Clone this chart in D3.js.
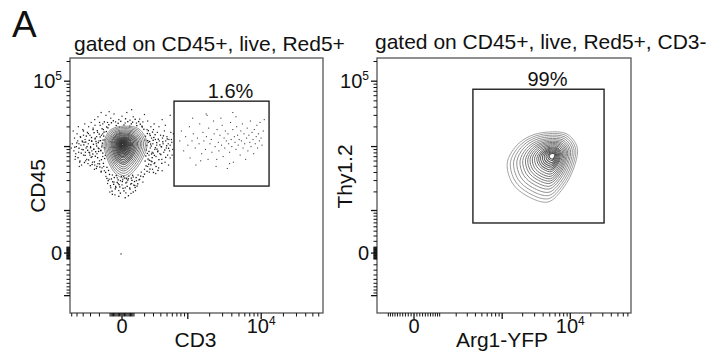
<!DOCTYPE html>
<html><head><meta charset="utf-8">
<script src="https://cdn.jsdelivr.net/npm/d3@7"></script>
<style>
body{margin:0;background:#fff}
svg{display:block}
text{font-family:"Liberation Sans",Arial,Helvetica,sans-serif;fill:#111}
</style>
</head><body>
<svg id="chart" width="713" height="357"></svg>
<script>
// ---------------- DATA (event values in arcsinh-transformed display units) ----------------
const panelLetter = "A";
const panelTitles = ["gated on CD45+, live, Red5+", "gated on CD45+, live, Red5+, CD3-"];
const xAxisTitles = ["CD3", "Arg1-YFP"];
const yAxisTitles = ["CD45", "Thy1.2"];
const gatePercents = ["1.6%", "99%"];

// arcsinh cofactors of the biexponential axes
const xCofactors = [262, 102];
const yCofactors = [470, 470];
// visible axis extents (transformed units)
const xExtents = [[-1.62, 6.26], [-1.25, 7.33]];
const yExtents = [[-2.11, 6.87], [-2.11, 6.87]];

// tick values (raw fluorescence)
const tickDecades = [10, 100, 1000, 10000, 100000];
const majorTicks = [-100000, -10000, -1000, 0, 1000, 10000, 100000];
const xTickLabels = [{value: 0, base: "0", exp: ""}, {value: 10000, base: "10", exp: "4"}];
const yTickLabels = [{value: 0, base: "0", exp: ""}, {value: 100000, base: "10", exp: "5"}];

// gates [xMin, xMax, yMin, yMax] (transformed units)
const gates = [[1.62, 4.58, 2.36, 5.35], [1.99, 6.42, 1.06, 5.77]];

// left panel: sparse events outside the contoured core (CD3, CD45)
const haloCD3 = [
-1.55,-1.50,-1.48,-1.45,-1.42,-1.40,-1.38,-1.35,-1.32,-1.30,-1.28,-1.25,-1.22,-1.20,-1.18,-1.15,-1.12,-1.10,-1.08,-1.05,
-1.03,-1.00,-0.98,-0.95,-0.93,-0.90,-0.88,-0.85,-0.83,-0.80,-0.78,-0.76,-0.74,-0.72,-0.70,-0.68,-0.66,-0.64,-0.62,-0.60,
-0.58,-0.57,-0.55,-1.46,-1.36,-1.26,-1.16,-1.06,-0.96,-0.86,-1.52,-1.33,-1.13,-0.92,-0.75,-0.65,-1.44,-1.24,-1.04,-0.84,
-0.70,-1.58,-1.34,-1.14,-0.94,-0.62,-1.20,-1.00,-0.79,-0.60,
0.80,0.82,0.84,0.86,0.88,0.90,0.92,0.94,0.96,0.98,1.00,1.02,1.04,1.06,1.08,1.10,1.12,1.14,1.16,1.18,
1.20,1.22,1.24,1.26,1.28,1.30,1.32,1.34,1.36,1.38,1.40,1.42,1.44,1.46,1.48,1.50,0.85,0.95,1.05,0.90,
1.15,1.35,1.55,1.58,1.60,1.52,1.50,0.78,1.25,1.45,1.00,1.56,1.54,
-0.50,-0.45,-0.40,-0.35,-0.30,-0.25,-0.20,-0.15,-0.10,-0.05,0.00,0.05,0.10,0.15,0.20,0.25,0.30,0.35,0.40,0.45,
0.50,0.55,0.60,0.65,0.70,-0.38,0.12,-0.22,0.28,0.02,-0.12,0.42,
-0.85,-0.75,-0.60,-0.50,-0.45,-0.35,-0.25,-0.20,-0.10,0.00,0.10,0.15,0.25,0.35,0.45,0.55,0.65,0.70,0.80,-0.40,
0.30,-0.65,1.50,1.25,-0.03];
const haloCD45 = [
3.85,3.60,4.05,3.40,3.75,4.20,3.95,3.55,3.20,4.10,3.80,3.65,4.35,3.45,3.90,4.00,3.70,3.30,4.25,3.85,
3.55,4.15,3.75,3.95,3.40,4.40,3.65,3.10,4.05,3.85,3.50,4.25,3.70,3.95,3.25,4.50,3.60,4.15,3.80,3.40,
4.35,3.05,2.90,3.30,4.45,3.10,4.55,3.15,4.60,2.95,4.30,3.05,3.25,3.20,3.15,2.85,3.50,3.95,4.45,4.50,
4.60,3.70,3.85,3.55,3.60,3.00,4.15,3.45,4.10,4.20,
3.05,3.90,3.45,4.20,3.70,3.25,4.05,3.55,3.85,4.35,3.15,3.65,4.00,3.40,3.80,4.25,3.60,3.00,3.95,3.50,
4.15,3.75,3.30,4.05,3.85,3.55,4.30,3.20,3.95,3.70,4.10,3.45,3.85,4.00,3.60,3.35,2.85,2.95,2.80,4.45,
4.45,4.50,3.90,3.65,4.20,4.25,3.80,4.35,2.90,3.10,4.55,3.45,4.00,
2.70,2.45,2.60,2.30,2.75,2.50,2.35,2.65,2.20,2.55,2.40,2.70,2.30,2.50,2.62,2.25,2.45,2.68,2.38,2.55,
2.75,2.60,2.85,2.50,2.95,2.15,2.12,2.05,2.10,2.58,2.45,2.20,
4.70,4.80,4.55,4.85,4.60,4.75,4.90,4.62,4.70,4.82,4.58,4.95,4.68,4.80,4.58,4.72,4.62,4.88,4.65,4.98,
5.05,4.95,4.85,4.70,-0.03];

// left panel: dense band of events hugging the outer contour [CD3, CD45]
const haloBandEvents = [
[-0.93,3.12],[-0.61,3.87],[-0.77,4.31],[-0.52,3.44],[-0.88,3.66],[-0.69,3.03],[-0.57,4.12],[-0.81,3.93],[-0.64,3.29],[-0.95,4.07],
[-0.73,3.58],[-0.55,3.71],[-0.86,3.21],[-0.62,4.38],[-0.79,3.77],[-0.67,3.96],[-0.91,3.49],[-0.58,3.16],[-0.71,4.19],[-0.84,4.02],
[-0.53,3.99],[-0.76,3.36],[-0.89,3.83],[-0.66,3.62],[-0.98,3.71],[-0.60,3.52],[-0.74,3.89],[-0.83,3.41],[-0.56,4.26],[-0.70,3.14],
[-0.94,3.94],[-0.63,3.74],[-0.87,4.24],[-0.78,3.05],[-0.54,3.33],[-0.68,4.09],[-0.82,3.57],[-0.59,3.98],[-0.96,3.37],[-0.72,3.68],
[-1.07,3.62],[-1.19,3.81],[-1.02,3.97],[-1.27,3.52],[-1.11,4.12],[-1.34,3.69],[-1.04,3.28],[-1.23,3.92],[-1.15,3.44],[-1.41,3.88],
[-1.09,3.75],[-1.29,4.08],[-1.17,3.19],[-1.01,3.53],[-1.37,3.36],[-1.21,3.64],[-1.13,3.91],[-1.47,3.73],[-1.05,4.21],[-1.31,3.24],
[-0.47,3.02],[-0.51,2.84],[-0.44,4.41],[-0.49,4.28],[-0.42,2.91],[-0.99,3.08],[-0.90,4.35],[-0.80,2.98],[-0.65,2.88],[-1.20,4.30],
[0.74,3.42],[0.91,3.77],[0.83,3.13],[0.71,3.98],[0.97,3.52],[0.79,4.21],[1.04,3.71],[0.87,2.96],[0.76,3.63],[0.99,4.07],
[0.81,3.31],[1.08,3.89],[0.93,3.22],[0.73,4.11],[1.01,3.44],[0.86,3.93],[0.78,2.88],[1.11,3.57],[0.95,4.26],[0.84,3.58],
[0.72,3.24],[1.06,3.05],[0.89,3.84],[0.77,3.79],[1.13,4.01],[0.94,3.36],[0.80,3.96],[1.02,3.18],[0.88,4.14],[0.75,3.07],
[1.09,3.66],[0.92,3.49],[0.82,4.31],[1.15,3.29],[0.97,3.97],[0.85,3.27],[1.18,3.81],[1.03,4.17],[0.90,3.11],[0.79,3.51],
[1.21,3.47],[1.27,3.92],[1.33,3.63],[1.24,3.16],[1.39,3.78],[1.29,4.13],[1.36,3.37],[1.45,3.69],[1.23,3.74],[1.41,4.02],
[0.70,2.78],[0.66,2.69],[0.68,4.36],[0.63,4.44],[1.12,2.91],[0.98,2.84],
[-0.33,2.61],[0.12,2.47],[-0.18,2.73],[0.31,2.56],[-0.07,2.33],[0.44,2.66],[-0.26,2.42],[0.21,2.71],[0.03,2.28],[-0.39,2.77],
[0.37,2.39],[-0.12,2.58],[0.16,2.35],[-0.29,2.51],[0.49,2.44],[0.08,2.64],[-0.21,2.26],[0.27,2.43],[-0.02,2.69],[0.41,2.31],
[-0.36,2.37],[0.18,2.57],[-0.09,2.41],[0.33,2.74],[-0.24,2.66],[0.06,2.19],[-0.43,2.55],[0.24,2.29],[-0.15,2.49],[0.53,2.58],
[0.01,2.52],[-0.31,2.18],[0.39,2.52],[-0.05,2.11],[0.14,2.62],[-0.19,2.31],[0.29,2.64],[0.47,2.36],[-0.47,2.63],[0.58,2.71],
[-0.10,2.00],[0.20,2.02],[-0.30,2.07],[0.10,1.95],[0.35,2.15],
[-0.41,4.52],[0.18,4.63],[-0.12,4.57],[0.46,4.49],[-0.27,4.66],[0.06,4.51],[0.33,4.61],[-0.48,4.44],[0.57,4.54],[-0.04,4.64],
[0.24,4.47],[-0.33,4.59],[0.41,4.71],[-0.18,4.49],[0.11,4.73],[0.62,4.47],[-0.55,4.62],[0.29,4.55],[-0.08,4.44],[0.52,4.63]];

// left panel: events inside the CD3+ gate
const gateCD3 = [
1.80,1.85,1.92,1.98,2.05,2.10,2.12,2.18,2.22,2.28,2.30,2.35,2.40,2.42,2.48,2.52,2.55,2.60,2.63,2.68,
2.70,2.74,2.78,2.80,2.85,2.87,2.90,2.93,2.96,3.00,3.02,3.05,3.08,3.10,3.12,3.15,3.18,3.20,3.22,3.25,
3.28,3.30,3.32,3.35,3.38,3.40,3.42,3.45,3.47,3.50,3.52,3.55,3.57,3.60,3.62,3.65,3.68,3.70,3.72,3.75,
3.77,3.80,3.82,3.85,3.88,3.90,3.92,3.95,3.98,4.00,4.02,4.05,4.08,4.10,4.12,4.15,4.18,4.20,4.22,4.25,
4.28,4.30,4.33,4.36,4.40,4.43,2.20,2.65,3.55,2.95,3.35,2.45,3.45,2.62];
const gateCD45 = [
3.95,4.30,3.60,4.10,3.80,4.45,3.35,3.95,4.20,3.70,3.10,4.05,3.85,4.55,3.50,4.25,3.95,3.65,4.10,3.30,
4.40,3.85,4.00,3.55,4.65,4.20,3.75,3.05,4.35,3.90,3.60,4.15,4.75,3.80,4.50,3.40,4.05,3.70,4.30,3.95,
2.98,4.20,3.85,3.55,4.60,4.00,3.75,4.35,3.20,4.10,3.90,3.65,4.45,4.15,3.80,4.00,3.45,4.30,3.95,4.55,
3.70,4.20,3.85,3.30,4.05,4.40,3.60,4.15,3.90,4.65,3.75,4.25,4.00,3.50,4.35,3.85,4.10,4.50,3.70,4.20,
3.95,4.60,4.05,3.80,4.30,4.70,4.75,4.85,4.80,3.30,3.15,3.25,4.95,4.90];

// contour plots: centre, peak offset, outline template (offsets) and contour levels
const contourCentres = [[0.00, 3.70], [4.43, 3.10]];
const contourPeaks = [[0.02, 0.14], [0.26, 0.34]];
const contourShapeX = [
  [0.06, 0.53, 0.78, 0.62, 0.28, 0.06, -0.22, -0.47, -0.56, -0.37],
  [0.07, 0.74, 1.08, 0.98, 0.61, 0.10, -0.61, -1.11, -1.28, -0.98, -0.51]];
const contourShapeY = [
  [0.77, 0.67, 0.18, -0.42, -0.92, -1.06, -0.88, -0.35, 0.18, 0.63],
  [1.16, 1.09, 0.63, -0.07, -0.81, -1.30, -1.09, -0.63, 0.07, 0.67, 1.02]];
const contourLevels = [
  [1.0, 0.93, 0.86, 0.79, 0.73, 0.67, 0.61, 0.56, 0.51, 0.46, 0.41, 0.37, 0.33, 0.29, 0.25, 0.22, 0.19, 0.16, 0.13, 0.10, 0.07, 0.045],
  [1.0, 0.93, 0.86, 0.79, 0.72, 0.66, 0.60, 0.55, 0.50, 0.45, 0.40, 0.35, 0.31, 0.27, 0.23, 0.19, 0.15, 0.11, 0.08]];

// ---------------- LAYOUT ----------------
const frames = [{x0: 70, x1: 323, y0: 58, y1: 313}, {x0: 377, x1: 631, y0: 58, y1: 313}];
const titlePos = [{x: 74, y: 51}, {x: 375, y: 49}];

const svg = d3.select("#chart");
svg.append("text").attr("x", 12).attr("y", 37).attr("font-size", 37).text(panelLetter);

const allTickVals = [0];
tickDecades.forEach(d => { for (let m = 1; m <= 9; m++) { allTickVals.push(m * d, -m * d); } });

frames.forEach((f, i) => {
  const g = svg.append("g");
  const xc = xCofactors[i], yc = yCofactors[i];
  const x = d3.scaleLinear().domain(xExtents[i]).range([f.x0, f.x1]);
  const y = d3.scaleLinear().domain(yExtents[i]).range([f.y1, f.y0]);
  const tx = v => Math.asinh(v / xc), ty = v => Math.asinh(v / yc);

  // title
  g.append("text").attr("x", titlePos[i].x).attr("y", titlePos[i].y)
    .attr("font-size", 21).text(panelTitles[i]);

  // scattered events
  if (i === 0) {
    g.selectAll(".halo").data(d3.range(haloCD3.length)).join("rect")
      .attr("x", k => x(haloCD3[k]) - 0.6).attr("y", k => y(haloCD45[k]) - 0.6)
      .attr("width", 1.2).attr("height", 1.2).attr("fill", "#222");
    g.selectAll(".band").data(haloBandEvents).join("rect")
      .attr("x", d => x(d[0]) - 0.65).attr("y", d => y(d[1]) - 0.65)
      .attr("width", 1.3).attr("height", 1.3).attr("fill", "#111");
    g.selectAll(".gd").data(d3.range(gateCD3.length)).join("rect")
      .attr("x", k => x(gateCD3[k]) - 0.55).attr("y", k => y(gateCD45[k]) - 0.55)
      .attr("width", 1.1).attr("height", 1.1).attr("fill", "#444");
  }

  // contours
  const c = contourCentres[i], pk = contourPeaks[i];
  const shapeX = contourShapeX[i], shapeY = contourShapeY[i];
  const line = d3.line().curve(d3.curveCatmullRomClosed.alpha(0.5));
  const levels = contourLevels[i];
  const col = d3.scaleLinear().domain([1, 0]).range(i === 0 ? ["#888", "#2a2a2a"] : ["#999", "#444"]);
  const sw = d3.scaleLinear().domain([1, 0]).range(i === 0 ? [0.9, 1.2] : [0.9, 1.05]);
  levels.forEach(s => {
    const cx = c[0] + (1 - s) * pk[0], cy = c[1] + (1 - s) * pk[1];
    const pts = shapeX.map((dx, j) => [x(cx + s * dx), y(cy + s * shapeY[j])]);
    g.append("path").attr("d", line(pts)).attr("fill", "none")
      .attr("stroke", col(s)).attr("stroke-width", sw(s));
  });

  // gate
  const gt = gates[i];
  g.append("rect").attr("x", x(gt[0])).attr("y", y(gt[3]))
    .attr("width", x(gt[1]) - x(gt[0])).attr("height", y(gt[2]) - y(gt[3]))
    .attr("fill", "none").attr("stroke", "#222").attr("stroke-width", 1.4);
  g.append("text").attr("x", (x(gt[0]) + x(gt[1])) / 2 + 9).attr("y", y(gt[3]) - 3)
    .attr("text-anchor", "middle").attr("font-size", 20).text(gatePercents[i]);

  // frame
  g.append("rect").attr("x", f.x0).attr("y", f.y0).attr("width", f.x1 - f.x0).attr("height", f.y1 - f.y0)
    .attr("fill", "none").attr("stroke", "#555").attr("stroke-width", 1.3);

  // ticks
  const xt = allTickVals.filter(v => tx(v) >= xExtents[i][0] && tx(v) <= xExtents[i][1]);
  const yt = allTickVals.filter(v => ty(v) >= yExtents[i][0] && ty(v) <= yExtents[i][1]);
  g.selectAll(".xt").data(xt).join("line")
    .attr("x1", v => x(tx(v))).attr("x2", v => x(tx(v)))
    .attr("y1", f.y1).attr("y2", v => f.y1 + (majorTicks.includes(v) ? 6 : 3.5))
    .attr("stroke", "#111").attr("stroke-width", v => majorTicks.includes(v) ? 1.3 : 1.0);
  g.selectAll(".yt").data(yt).join("line")
    .attr("y1", v => y(ty(v))).attr("y2", v => y(ty(v)))
    .attr("x1", f.x0).attr("x2", v => f.x0 - (majorTicks.includes(v) ? 6 : 3.5))
    .attr("stroke", "#111").attr("stroke-width", v => majorTicks.includes(v) ? 1.3 : 1.0);

  // tick labels
  xTickLabels.forEach(t => {
    const el = g.append("text").attr("x", x(tx(t.value))).attr("y", 333)
      .attr("text-anchor", "middle").attr("font-size", 20);
    el.append("tspan").text(t.base);
    if (t.exp) el.append("tspan").attr("dy", -8).attr("font-size", 12).text(t.exp);
  });
  yTickLabels.forEach(t => {
    const el = g.append("text").attr("x", f.x0 - 8).attr("y", y(ty(t.value)) + 7)
      .attr("text-anchor", "end").attr("font-size", 20);
    el.append("tspan").text(t.base);
    if (t.exp) el.append("tspan").attr("dy", -8).attr("font-size", 12).text(t.exp);
  });

  // axis titles
  g.append("text").attr("x", (f.x0 + f.x1) / 2 - (i === 0 ? 1 : 2)).attr("y", 347)
    .attr("text-anchor", "middle").attr("font-size", 21).text(xAxisTitles[i]);
  const ycx = f.x0 - 25, ycy = (f.y0 + f.y1) / 2 - (i === 0 ? -0.5 : 9);
  g.append("text").attr("transform", `translate(${ycx},${ycy}) rotate(-90)`)
    .attr("text-anchor", "middle").attr("font-size", 21).text(yAxisTitles[i]);
});
</script>
</body></html>
